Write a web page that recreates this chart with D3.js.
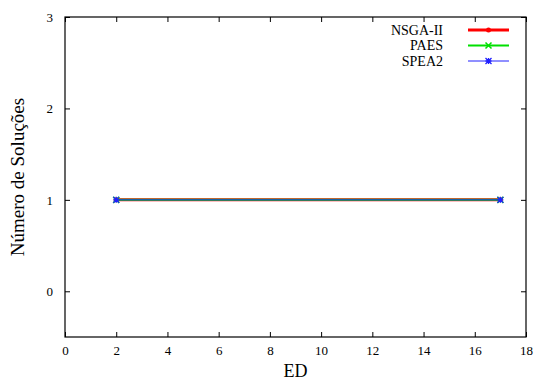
<!DOCTYPE html>
<html>
<head>
<meta charset="utf-8">
<script src="https://cdn.jsdelivr.net/npm/d3@7"></script>
<style>
  body { margin: 0; background: #fff; }
  text { font-family: "Liberation Serif", "Times New Roman", serif; }
</style>
</head>
<body>
<div id="chart"></div>
<script>
// data
const seriesNames = ['NSGA-II', 'PAES', 'SPEA2'];
const seriesColors = ['#ff0000', '#00e000', '#2020ff'];
const xValues = [2, 17];
const nsgaValues = [1, 1];
const paesValues = [1, 1];
const spea2Values = [1, 1];
const xTicks = [0, 2, 4, 6, 8, 10, 12, 14, 16, 18];
const yTicks = [0, 1, 2, 3];

const width = 541, height = 381;
const margin = {top: 17, right: 15, bottom: 44, left: 65};
const serif = '"Liberation Serif", "Times New Roman", serif';

const svg = d3.select('#chart')
    .append('svg')
    .attr('width', width)
    .attr('height', height);

const x = d3.scaleLinear().domain([0, 18]).range([margin.left, width - margin.right]);
const y = d3.scaleLinear().domain([-0.5, 3]).range([height - margin.bottom, margin.top]);

const tickLen = 5;
const fmt = d3.format('d');

// ticks on all four sides, pointing in
const bottomAxis = svg.append('g')
    .attr('transform', `translate(0,${y(-0.5)})`)
    .call(d3.axisBottom(x).tickValues(xTicks).tickFormat(fmt).tickSizeInner(-tickLen).tickSizeOuter(0).tickPadding(9));
const topAxis = svg.append('g')
    .attr('transform', `translate(0,${y(3)})`)
    .call(d3.axisTop(x).tickValues(xTicks).tickSizeInner(-tickLen).tickSizeOuter(0).tickFormat(''));
const leftAxis = svg.append('g')
    .attr('transform', `translate(${x(0)},0)`)
    .call(d3.axisLeft(y).tickValues(yTicks).tickFormat(fmt).tickSizeInner(-tickLen).tickSizeOuter(0).tickPadding(12));
const rightAxis = svg.append('g')
    .attr('transform', `translate(${x(18)},0)`)
    .call(d3.axisRight(y).tickValues(yTicks).tickSizeInner(-tickLen).tickSizeOuter(0).tickFormat(''));

[bottomAxis, topAxis, leftAxis, rightAxis].forEach(g => {
    g.attr('font-family', serif).attr('font-size', 13);
    g.select('.domain').remove();
    g.selectAll('line').attr('stroke', '#000');
    g.selectAll('text').attr('fill', '#000');
});

svg.append('rect')
    .attr('x', x(0)).attr('y', y(3))
    .attr('width', x(18) - x(0)).attr('height', y(-0.5) - y(3))
    .attr('fill', 'none').attr('stroke', '#000').attr('stroke-width', 1.2);

// axis titles
svg.append('text')
    .attr('x', (x(0) + x(18)) / 2)
    .attr('y', height - 4)
    .attr('text-anchor', 'middle')
    .attr('font-size', 18)
    .text('ED');

svg.append('text')
    .attr('transform', `translate(24,${(y(3) + y(-0.5)) / 2}) rotate(-90)`)
    .attr('text-anchor', 'middle')
    .attr('font-size', 19)
    .text('Número de Soluções');

const series = [nsgaValues, paesValues, spea2Values].map((vals, i) => ({
    name: seriesNames[i],
    color: seriesColors[i],
    width: [3, 2, 1][i],
    points: xValues.map((xv, j) => ({x: xv, y: vals[j]}))
}));

const line = d3.line().x(d => x(d.x)).y(d => y(d.y));

function marker(g, i, cx, cy, color) {
    if (i === 0) {
        g.append('circle').attr('cx', cx).attr('cy', cy).attr('r', 2.5).attr('fill', color);
    } else if (i === 1) {
        const s = 3;
        g.append('path')
            .attr('d', `M${cx - s},${cy - s}L${cx + s},${cy + s}M${cx - s},${cy + s}L${cx + s},${cy - s}`)
            .attr('stroke', color).attr('stroke-width', 1.5);
    } else {
        const s = 3;
        g.append('path')
            .attr('d', `M${cx - s},${cy - s}L${cx + s},${cy + s}M${cx - s},${cy + s}L${cx + s},${cy - s}M${cx - s},${cy}L${cx + s},${cy}M${cx},${cy - s}L${cx},${cy + s}`)
            .attr('stroke', color).attr('stroke-width', 1.3);
    }
}

const plot = svg.append('g');
series.forEach((s, i) => {
    plot.append('path')
        .datum(s.points)
        .attr('d', line)
        .attr('fill', 'none')
        .attr('stroke', s.color)
        .attr('stroke-width', s.width);
    s.points.forEach(p => marker(plot, i, x(p.x), y(p.y), s.color));
});

// legend
const legend = svg.append('g');
series.forEach((s, i) => {
    const ly = 30 + i * 15.5;
    legend.append('text')
        .attr('x', 443).attr('y', ly + 4.5)
        .attr('text-anchor', 'end')
        .attr('font-size', 14)
        .text(s.name);
    legend.append('line')
        .attr('x1', 468).attr('x2', 509)
        .attr('y1', ly).attr('y2', ly)
        .attr('stroke', s.color).attr('stroke-width', s.width);
    marker(legend, i, 488.5, ly, s.color);
});
</script>
</body>
</html>
